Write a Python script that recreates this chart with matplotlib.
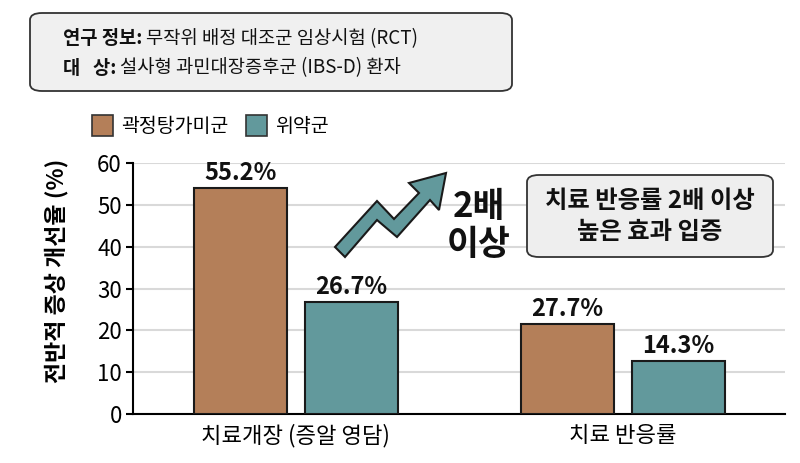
import numpy as np
import matplotlib
matplotlib.use('Agg')
import matplotlib.pyplot as plt
from matplotlib.patches import FancyBboxPatch, Polygon

plt.rcParams['font.family'] = ['Noto Sans CJK KR', 'DejaVu Sans']

# data
categories = ['치료개장 (증알 영담)', '치료 반응률']
herb_vals = [54.1, 21.6]
placebo_vals = [26.8, 12.7]
herb_labels = ['55.2%', '27.7%']
placebo_labels = ['26.7%', '14.3%']
series_names = ['곽정탕가미군', '위약군']
yticks = [0, 10, 20, 30, 40, 50, 60]

c_herb = '#b47f59'
c_plac = '#62999c'
edge = '#1a1a1a'

W, H = 800, 463
fig = plt.figure(figsize=(8, 4.63), dpi=100)
fig.patch.set_facecolor('white')

def fx(px):
    return px / W

def fy(py):
    return 1 - py / H

ax = fig.add_axes([fx(133), fy(414), fx(785) - fx(133), fy(163) - fy(414)])

x = np.arange(len(categories))
bw = 0.284
off = 0.17
b1 = ax.bar(x - off, herb_vals, bw, color=c_herb, edgecolor=edge, linewidth=1.5, zorder=3)
b2 = ax.bar(x + off, placebo_vals, bw, color=c_plac, edgecolor=edge, linewidth=1.5, zorder=3)

for bars, labs in [(b1, herb_labels), (b2, placebo_labels)]:
    for r, t in zip(bars, labs):
        ax.annotate(t, (r.get_x() + r.get_width() / 2, r.get_height()),
                    xytext=(0, 2), textcoords='offset points', ha='center', va='bottom',
                    fontsize=17, fontweight='bold', color='#111111', annotation_clip=False)

ax.set_xlim(-0.498, 1.495)
ax.set_ylim(0, 60)
ax.set_yticks(yticks)
ax.set_xticks(x)
ax.set_xticklabels(categories, fontsize=16)
ax.tick_params(axis='x', length=0, pad=7)
ax.tick_params(axis='y', labelsize=16, length=5, width=1.5, pad=3)
ax.yaxis.grid(True, color='#d9d9d9', linewidth=1.5, zorder=0)
ax.set_axisbelow(True)
for s in ['top', 'right']:
    ax.spines[s].set_visible(False)
ax.spines['left'].set_linewidth(1.5)
ax.spines['bottom'].set_linewidth(1.5)
ax.set_ylabel('전반적 증상 개선율 (%)', fontsize=16.5, fontweight='bold')
ax.yaxis.set_label_coords((68 - 133) / 652, 0.57)

# info box at top
top_box = FancyBboxPatch((fx(30), fy(91)), fx(512) - fx(30), fy(13) - fy(91),
                         boxstyle='round,pad=0,rounding_size=0.015',
                         transform=fig.transFigure, facecolor='#f0f0f0',
                         edgecolor='#333333', linewidth=1.3)
fig.patches.append(top_box)

fig.canvas.draw()
rend = fig.canvas.get_renderer()

def two_part(xpx, ypx, bold, rest, size):
    t1 = fig.text(fx(xpx), fy(ypx), bold, fontsize=size, fontweight='bold',
                  ha='left', va='center', color='#111111')
    bb = t1.get_window_extent(renderer=rend)
    fig.text(bb.x1 / (fig.dpi * fig.get_figwidth()) + 0.004, fy(ypx), rest, fontsize=size,
             ha='left', va='center', color='#111111')

two_part(63, 39, '연구 정보:', '무작위 배정 대조군 임상시험 (RCT)', 13.5)
two_part(63, 68, '대   상:', '설사형 과민대장증후군 (IBS-D) 환자', 13.5)

# legend
handles = [plt.Rectangle((0, 0), 1, 1, facecolor=c, edgecolor='#333333', linewidth=1.2)
           for c in (c_herb, c_plac)]
fig.legend(handles, series_names, loc='center left', bbox_to_anchor=(fx(84), fy(126)),
           ncol=2, frameon=False, fontsize=14, handlelength=1.1, handleheight=1.3,
           handletextpad=0.4, columnspacing=0.9, borderaxespad=0)

# zigzag arrow
arrow_px = [(335, 247), (377, 201), (394, 219), (419, 193), (409, 183), (446, 173),
            (439, 210), (430, 200), (397, 237), (377, 220), (345, 257)]
arrow = Polygon([(fx(a), fy(b)) for a, b in arrow_px], closed=True,
                transform=fig.transFigure, facecolor=c_plac, edgecolor=edge,
                linewidth=1.5, zorder=5)
fig.patches.append(arrow)

fig.text(fx(479), fy(206), '2배', fontsize=25, fontweight='bold', ha='center', va='center', color='#111111')
fig.text(fx(479), fy(244), '이상', fontsize=25, fontweight='bold', ha='center', va='center', color='#111111')

# note box
note_box = FancyBboxPatch((fx(527), fy(257)), fx(773) - fx(527), fy(175) - fy(257),
                          boxstyle='round,pad=0,rounding_size=0.015',
                          transform=fig.transFigure, facecolor='#eeeeee',
                          edgecolor='#333333', linewidth=1.3, zorder=5)
fig.patches.append(note_box)
fig.text(fx(650), fy(201), '치료 반응률 2배 이상', fontsize=17.5, fontweight='bold',
         ha='center', va='center', color='#111111', zorder=6)
fig.text(fx(650), fy(232), '높은 효과 입증', fontsize=17.5, fontweight='bold',
         ha='center', va='center', color='#111111', zorder=6)

fig.savefig('out.png', dpi=100)
